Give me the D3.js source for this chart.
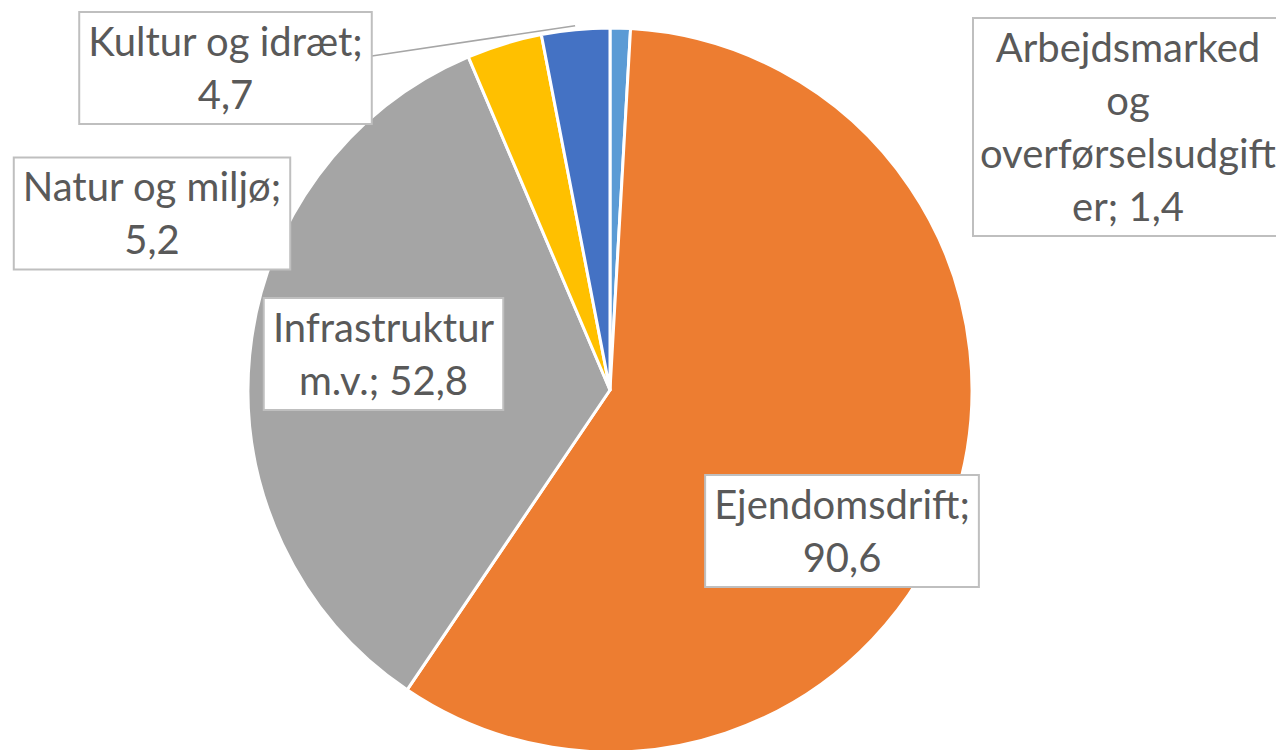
<!doctype html>
<html>
<head>
<meta charset="utf-8">
<script src="https://d3js.org/d3.v7.min.js"></script>
<style>
  html, body { margin: 0; padding: 0; background: #fff; }
  svg { display: block; }
</style>
</head>
<body>
<svg width="1276" height="750"></svg>
<script>
// data, in clockwise order from 12 o'clock
var categories = ["Arbejdsmarked og overførselsudgifter", "Ejendomsdrift", "Infrastruktur m.v.", "Natur og miljø", "Kultur og idræt"];
var values = [1.4, 90.6, 52.8, 5.2, 4.7];
var valueLabels = ["1,4", "90,6", "52,8", "5,2", "4,7"];
// how each data label wraps in the reference
var labelLines = [
  ["Arbejdsmarked", "og", "overførselsudgift", "er; 1,4"],
  ["Ejendomsdrift;", "90,6"],
  ["Infrastruktur", "m.v.; 52,8"],
  ["Natur og miljø;", "5,2"],
  ["Kultur og idræt;", "4,7"]
];
var colors = ["#5B9BD5", "#ED7D31", "#A5A5A5", "#FFC000", "#4472C4"];

// label box placement (centre x, centre y, fixed width or null, leader line?)
var labelPos = [
  {x: 1128, y: 127, w: 310, leader: false},
  {x: 842, y: 531, w: null, leader: false},
  {x: 383.5, y: 354, w: null, leader: false},
  {x: 152, y: 213.5, w: null, leader: false},
  {x: 225.5, y: 68, w: null, leader: true}
];

var svg = d3.select("svg"),
    cx = 610, cy = 390, radius = 362,
    fontSize = 40, lineH = 53, padX = 9;

var pie = d3.pie().sort(null).value(function(d) { return d; });
var arc = d3.arc().innerRadius(0).outerRadius(radius);
var arcs = pie(values);

var g = svg.append("g").attr("transform", "translate(" + cx + "," + cy + ")");

g.selectAll("path.slice")
  .data(arcs)
  .enter()
  .append("path")
  .attr("class", "slice")
  .attr("d", arc)
  .style("fill", function(d, i) { return colors[i]; })
  .style("stroke", "#fff")
  .style("stroke-width", 3)
  .style("stroke-linejoin", "round");

// leader lines (start point set once the box size is known)
var outer = d3.arc().innerRadius(radius + 4).outerRadius(radius + 4);
arcs.forEach(function(d, i) {
  if (!labelPos[i].leader) return;
  var end = outer.centroid(d);
  svg.append("line")
    .attr("class", "leader")
    .attr("data-i", i)
    .attr("x2", cx + end[0])
    .attr("y2", cy + end[1])
    .style("stroke", "#A6A6A6")
    .style("stroke-width", 1.5);
});

// label boxes
var labels = svg.selectAll("g.label")
  .data(arcs)
  .enter()
  .append("g")
  .attr("class", "label")
  .attr("transform", function(d, i) { return "translate(" + labelPos[i].x + "," + labelPos[i].y + ")"; });

labels.append("rect")
  .style("fill", "#fff")
  .style("stroke", "#BFBFBF")
  .style("stroke-width", 2);

labels.each(function(d, i) {
  var lbl = d3.select(this);
  var lines = labelLines[i];
  var t = lbl.append("text")
    .attr("text-anchor", "middle")
    .style("font-family", "Lato, 'Open Sans', sans-serif")
    .style("font-size", fontSize + "px")
    .style("fill", "#595959");
  lines.forEach(function(s, k) {
    t.append("tspan")
      .attr("x", 0)
      .attr("y", (k - (lines.length - 1) / 2) * lineH)
      .attr("dy", "0.35em")
      .text(s);
  });
  var bw = labelPos[i].w || (t.node().getBBox().width + 2 * padX);
  var bh = lines.length * lineH + 6;
  lbl.select("rect")
    .attr("x", -bw / 2).attr("y", -bh / 2)
    .attr("width", bw).attr("height", bh);
  if (labelPos[i].leader) {
    svg.select("line.leader[data-i='" + i + "']")
      .attr("x1", labelPos[i].x + bw / 2)
      .attr("y1", labelPos[i].y - bh / 2 + 44);
  }
});
</script>
</body>
</html>
